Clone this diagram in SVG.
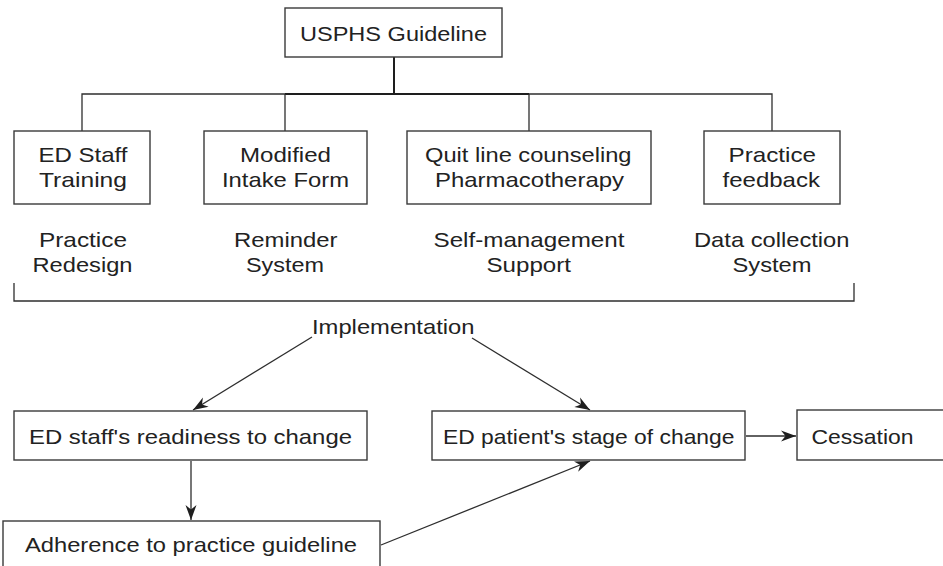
<svg xmlns="http://www.w3.org/2000/svg" width="943" height="566" viewBox="0 0 943 566">
<style>
.box{fill:#fff;stroke:#3a3a3a;stroke-width:1.4}
.ln{fill:none;stroke:#2e2e2e;stroke-width:1.3}
.thick{fill:none;stroke:#1e1e1e;stroke-width:2}
text{font-family:"Liberation Sans",Arial,sans-serif;font-size:21px;fill:#222}
</style>
<defs>
<marker id="ah" markerUnits="userSpaceOnUse" markerWidth="20" markerHeight="14" viewBox="-16 -7 18 14" refX="0" refY="0" orient="auto">
<path d="M0,0 L-15,-5.5 L-10.5,0 L-15,5.5 Z" fill="#1e1e1e"/>
</marker>
</defs>
<rect width="943" height="566" fill="#fff"/>
<g id="connectors">
<path class="thick" d="M394,57 V94 M285,94 H529"/>
<path class="ln" d="M82,131 V94 H285 M529,94 H772 V131 M285,94 V131 M529,94 V131"/>
<path class="ln" d="M14,283 V301 H854 V283"/>
<path class="ln" d="M312,337 L193,410" marker-end="url(#ah)"/>
<path class="ln" d="M472,338 L590,410" marker-end="url(#ah)"/>
<path class="ln" d="M191,461 V520" marker-end="url(#ah)"/>
<path class="ln" d="M381,545 L590,461" marker-end="url(#ah)"/>
<path class="ln" d="M746,436 H796" marker-end="url(#ah)"/>
</g>
<g id="usphs"><rect class="box" x="285" y="8" width="217" height="49"/><text x="300" y="41" textLength="187" lengthAdjust="spacingAndGlyphs">USPHS Guideline</text></g>
<g id="staff-training"><rect class="box" x="14" y="131" width="136" height="73"/>
<text x="38.5" y="162" textLength="89" lengthAdjust="spacingAndGlyphs">ED Staff</text>
<text x="39" y="187" textLength="88" lengthAdjust="spacingAndGlyphs">Training</text></g>
<g id="intake-form"><rect class="box" x="204" y="131" width="163" height="73"/>
<text x="240" y="162" textLength="91" lengthAdjust="spacingAndGlyphs">Modified</text>
<text x="222" y="187" textLength="127" lengthAdjust="spacingAndGlyphs">Intake Form</text></g>
<g id="quit-line"><rect class="box" x="407" y="131" width="244" height="73"/>
<text x="425" y="162" textLength="206.5" lengthAdjust="spacingAndGlyphs">Quit line counseling</text>
<text x="435" y="187" textLength="189" lengthAdjust="spacingAndGlyphs">Pharmacotherapy</text></g>
<g id="practice-feedback"><rect class="box" x="704" y="131" width="136" height="73"/>
<text x="728.5" y="162" textLength="87.5" lengthAdjust="spacingAndGlyphs">Practice</text>
<text x="722.5" y="187" textLength="97.5" lengthAdjust="spacingAndGlyphs">feedback</text></g>
<g id="practice-redesign">
<text x="39" y="247" textLength="88" lengthAdjust="spacingAndGlyphs">Practice</text>
<text x="32.5" y="272" textLength="100" lengthAdjust="spacingAndGlyphs">Redesign</text></g>
<g id="reminder-system">
<text x="234" y="247" textLength="103.5" lengthAdjust="spacingAndGlyphs">Reminder</text>
<text x="246" y="272" textLength="78" lengthAdjust="spacingAndGlyphs">System</text></g>
<g id="self-management">
<text x="433.5" y="247" textLength="191" lengthAdjust="spacingAndGlyphs">Self-management</text>
<text x="486.5" y="272" textLength="84.5" lengthAdjust="spacingAndGlyphs">Support</text></g>
<g id="data-collection">
<text x="694" y="247" textLength="155.5" lengthAdjust="spacingAndGlyphs">Data collection</text>
<text x="732.5" y="272" textLength="79" lengthAdjust="spacingAndGlyphs">System</text></g>
<g id="implementation"><text x="312" y="333.5" textLength="162.5" lengthAdjust="spacingAndGlyphs">Implementation</text></g>
<g id="staff-readiness"><rect class="box" x="14" y="411" width="353" height="49"/>
<text x="29" y="443.5" textLength="323" lengthAdjust="spacingAndGlyphs">ED staff's readiness to change</text></g>
<g id="patient-stage"><rect class="box" x="432" y="411" width="313" height="49"/>
<text x="443" y="443.5" textLength="291.5" lengthAdjust="spacingAndGlyphs">ED patient's stage of change</text></g>
<g id="cessation"><rect class="box" x="797" y="410" width="160" height="50"/>
<text x="811.5" y="443.5" textLength="102" lengthAdjust="spacingAndGlyphs">Cessation</text></g>
<g id="adherence"><rect class="box" x="3" y="521" width="377" height="60"/>
<text x="25" y="552" textLength="332" lengthAdjust="spacingAndGlyphs">Adherence to practice guideline</text></g>
</svg>
